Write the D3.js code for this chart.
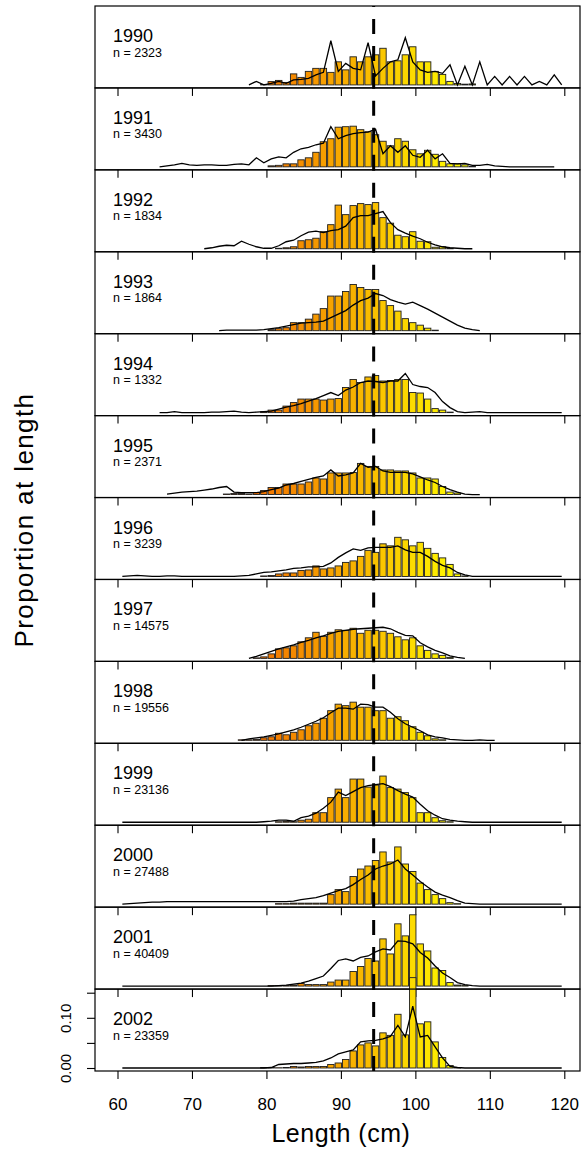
<!DOCTYPE html>
<html>
<head>
<meta charset="utf-8">
<script src="https://cdn.jsdelivr.net/npm/d3@7"></script>
<style>
  body { margin: 0; background: #fff; }
  text { font-family: "Liberation Sans", Arial, Helvetica, sans-serif; fill: #000; }
</style>
</head>
<body>
<svg id="chart" width="582" height="1152"></svg>
<script>
// one panel per year, bins are 1 cm classes indexed by their lower bound
const years = [1990, 1991, 1992, 1993, 1994, 1995, 1996, 1997, 1998, 1999, 2000, 2001, 2002];
const sampleSizes = [2323, 3430, 1834, 1864, 1332, 2371, 3239, 14575, 19556, 23136, 27488, 40409, 23359];

// bar histogram (proportion at length), first bin of each year
const barStart = [79, 80, 81, 80, 79, 74, 79, 78, 76, 81, 81, 80, 79];
const barProps = [
  [.001,.0066,.009,.005,.022,.015,.027,.033,.033,.025,.046,.030,.056,.046,.056,.060,.073,.046,.048,.060,.076,.046,.046,.027,.021,.007,.003,.0015,.002],
  [.002,.003,.006,.006,.014,.018,.029,.050,.056,.079,.080,.081,.074,.070,.064,.051,.042,.056,.051,.034,.026,.033,.025,.011,.006,.006,.004,.001],
  [.001,.002,.004,.016,.018,.021,.034,.048,.087,.068,.086,.090,.088,.092,.062,.051,.027,.024,.034,.015,.014,.003,.004,.001],
  [.002,.004,.006,.016,.016,.023,.033,.044,.069,.069,.078,.092,.086,.082,.082,.060,.050,.039,.024,.016,.011,.005,.001],
  [.002,.005,.005,.013,.020,.027,.027,.027,.025,.027,.028,.050,.066,.060,.071,.074,.063,.064,.066,.066,.040,.039,.027,.008,.005,.001],
  [.001,.002,.002,.001,.004,.008,.014,.014,.021,.021,.021,.025,.033,.031,.043,.043,.043,.044,.062,.056,.056,.049,.049,.047,.047,.043,.033,.033,.031,.016,.005,.003],
  [.001,.002,.005,.007,.007,.012,.013,.021,.015,.017,.021,.028,.031,.040,.052,.048,.065,.061,.078,.073,.061,.068,.056,.046,.037,.024,.005,.001],
  [.001,.003,.009,.019,.021,.025,.033,.041,.052,.044,.052,.057,.056,.060,.050,.056,.056,.054,.050,.043,.037,.041,.025,.016,.009,.006,.002],
  [.001,.001,.002,.005,.007,.014,.011,.016,.021,.029,.034,.044,.059,.072,.069,.076,.066,.066,.059,.059,.044,.047,.039,.027,.016,.009,.003,.001],
  [.001,.002,.001,.004,.006,.019,.019,.049,.066,.049,.086,.086,.070,.074,.092,.069,.066,.059,.049,.019,.019,.009,.003,.001],
  [.001,.001,.002,.002,.002,.002,.002,.019,.029,.025,.055,.070,.076,.087,.104,.084,.114,.080,.065,.042,.029,.019,.011,.003,.001],
  [.001,.001,.001,.002,.005,.003,.003,.003,.008,.012,.012,.029,.039,.055,.050,.094,.064,.124,.100,.142,.084,.070,.036,.031,.007,.002,.001],
  [.001,.001,.0005,.001,.003,.002,.003,.003,.003,.007,.010,.017,.034,.046,.050,.044,.070,.065,.107,.066,.180,.088,.092,.052,.021,.005,.001]
];

// black line (second length composition), first bin of each year
const lineStart = [77, 65, 71, 73, 65, 66, 60, 77, 76, 60, 60, 60, 60];
const lineProps = [
  [0,.007,0,.003,.007,.003,.010,.011,.013,.020,.025,.088,.027,.043,.033,.030,.084,.018,.033,.046,.050,.094,.046,.030,.025,.027,.023,.040,0,.037,0,.046,0,.017,0,.017,0,.017,0,.007,0,.020,0],
  [0,.002,.004,.007,.004,.003,.004,.004,.003,.003,.005,.006,.004,.018,.008,.016,.020,.018,.029,.036,.039,.044,.047,
   .080,.056,.062,.066,.068,.069,.075,.026,.042,.029,.042,.023,.019,.033,.016,.026,.007,.006,.007,.003,.003,.005,.002,.001,0,0,0,0,0,0,0],
  [0,.002,.005,.007,.006,.015,.009,.004,.001,.001,.006,.014,.017,.026,.033,.035,.032,.036,.038,.045,.062,.066,.066,.070,.074,.052,.038,.031,.025,.020,.013,.008,.004,.002,.001,0,0],
  [0,.001,.001,.001,.001,.001,.002,.004,.006,.009,.012,.015,.016,.017,.019,.026,.033,.040,.051,.060,.065,.074,.070,.062,.057,.053,.057,.050,.043,.035,.027,.019,.011,.005,.002,0],
  [0,0,.002,0,0,0,0,.001,.001,.002,.003,.001,0,.001,.002,
   .003,.007,.011,.014,.018,.023,.028,.034,.040,.034,.045,.051,.060,.063,.062,.060,.063,.063,.078,.056,.052,.050,.040,.022,.010,.002,0,.001,.002,
   0,0,0,0,0,0,0,0,0,0,0],
  [.001,.003,.005,.006,.007,.009,.011,.014,.016,.005,.004,.004,.004,.006,
   .010,.013,.019,.022,.026,.030,.034,.037,.049,.037,.039,.043,.062,.054,.056,.047,.044,.044,.044,.041,.035,.029,.024,.016,.010,.005,.001,0,0],
  [0,.001,.002,.001,0,0,.001,.001,0,0,0,0,0,0,0,0,
   .001,.002,.005,.008,.009,.011,.013,.016,.017,.019,.019,.020,.027,.038,.047,.055,.052,.057,.058,.058,.058,.061,.053,.048,.048,.040,.030,.022,.017,.008,.003,0,
   0,0,0,0,0,0,0,0,0,0,0,0],
  [0,.004,.009,.014,.019,.023,.027,.032,.036,.041,.045,.050,.054,.056,.058,.059,.060,.061,.062,.059,.052,.046,.045,.031,.023,.016,.011,.005,.002,0],
  [0,.003,.005,.007,.010,.013,.017,.021,.026,.032,.038,.045,.055,.064,.064,.062,.072,.071,.066,.066,.056,.043,.033,.026,.019,.011,.007,.005,.002,.001,0,0,.001,0,0],
  [0,0,0,0,0,0,0,0,0,0,0,0,0,0,0,0,0,0,0,
   .001,.002,.004,.004,.002,.009,.012,.018,.028,.040,.060,.053,.061,.069,.073,.075,.077,.071,.063,.056,.050,.036,.023,.014,.007,.004,.002,.001,
   0,0,0,0,0,0,0,0,0,0,0,0,0],
  [0,.001,.002,.003,.004,.004,
   .005,.005,.005,.005,.005,.005,.005,.005,.005,.005,.005,.005,.005,.005,.005,.005,.005,
   .006,.009,.011,.013,.017,.022,.027,.031,.039,.049,.058,.070,.076,.080,.088,.070,.058,.045,.034,.024,.018,.013,.007,.002,.001,
   0,0,0,0,0,0,0,0,0,0,0,0],
  [0,0,0,0,0,0,0,0,0,0,0,0,0,0,0,0,0,0,0,0,0,
   .001,.002,.004,.006,.010,.015,.020,.035,.051,.054,.050,.057,.060,.068,.074,.072,.090,.089,.084,.067,.056,.040,.026,.017,.007,.003,.001,
   0,0,0,0,0,0,0,0,0,0,0,0],
  [0,0,0,0,0,0,0,0,0,0,0,0,0,0,0,0,0,0,0,0,.001,
   .007,.008,.009,.009,.010,.011,.014,.020,.028,.032,.036,.052,.054,.055,.058,.063,.085,.062,.123,.062,.065,.042,.020,.003,.001,
   0,0,0,0,0,0,0,0,0,0,0,0,0,0]
];

const xTicks = [60, 70, 80, 90, 100, 110, 120];
const yTicks = [0, 0.05, 0.10, 0.15];
const yTickLabels = ["0.00", "", "0.10", ""];
const refLength = 94.4;   // dashed reference line

const binOffset = 0.65, binWidth = 0.86;

const svg = d3.select("#chart");

const x = d3.scaleLinear().domain([60, 120]).range([117.5, 564.3]);
const panel = d3.scaleBand().domain(years).range([6, 1071]);
const ph = panel.bandwidth();
const left = 95, right = 580;

const fill = d3.scaleLinear().domain([75, 106]).range(["#f06000", "#ffff00"]).clamp(true);

const line = d3.line();

years.forEach((yr, i) => {
  const top = panel(yr);
  const bottom = top + ph;
  const y0 = bottom - 3;
  const y = d3.scaleLinear().domain([0, 0.1]).range([y0, y0 - 50.2]);
  const g = svg.append("g");

  const bars = barProps[i].map((p, k) => ({ len: barStart[i] + k, p }));
  g.selectAll("rect")
    .data(bars)
    .enter()
    .append("rect")
    .attr("x", d => x(d.len + binOffset - binWidth / 2))
    .attr("width", d => x(d.len + binWidth) - x(d.len))
    .attr("y", d => y(d.p))
    .attr("height", d => y(0) - y(d.p))
    .attr("fill", d => fill(d.len))
    .attr("stroke", "#1e1e1e")
    .attr("stroke-width", 0.9);

  const pts = lineProps[i].map((p, k) => [x(lineStart[i] + k + binOffset), y(p)]);
  g.append("path")
    .attr("d", line(pts))
    .attr("fill", "none")
    .attr("stroke", "#000")
    .attr("stroke-width", 1.3)
    .attr("stroke-linejoin", "miter");

  // dashed line drawn from the bottom upwards
  g.append("line")
    .attr("x1", x(refLength)).attr("x2", x(refLength))
    .attr("y1", bottom).attr("y2", top)
    .attr("stroke", "#000")
    .attr("stroke-width", 3)
    .attr("stroke-dasharray", "15,12");

  g.append("rect")
    .attr("x", left).attr("y", top)
    .attr("width", right - left).attr("height", ph)
    .attr("fill", "none")
    .attr("stroke", "#000")
    .attr("stroke-width", 1.2);

  g.append("text")
    .attr("x", 113).attr("y", top + 36)
    .style("font-size", "18px")
    .text(yr);
  g.append("text")
    .attr("x", 113).attr("y", top + 50.5)
    .style("font-size", "12.5px")
    .text("n = " + sampleSizes[i]);

  const last = i === years.length - 1;
  const xAxis = d3.axisBottom(x).tickValues(xTicks).tickSize(8).tickSizeOuter(0)
    .tickFormat(last ? d3.format("d") : "");
  const ax = g.append("g").attr("transform", `translate(0,${bottom})`).call(xAxis);
  ax.select(".domain").remove();
  ax.selectAll("line").attr("stroke", "#000").attr("stroke-width", 1.1);
  ax.selectAll("text")
    .attr("y", 39).attr("dy", 0)
    .style("font-size", "17px")
    .style("font-family", "'Liberation Sans', Arial, sans-serif");

  if (last) {
    const yAxis = d3.axisLeft(y).tickValues(yTicks).tickSize(8).tickSizeOuter(0)
      .tickFormat((d, k) => yTickLabels[k]);
    const ay = g.append("g").attr("transform", `translate(${left},0)`).call(yAxis);
    ay.select(".domain").remove();
    ay.selectAll("line").attr("stroke", "#000").attr("stroke-width", 1.1);
    ay.selectAll("text")
      .attr("x", 0).attr("dy", 0)
      .attr("text-anchor", "middle")
      .attr("transform", "translate(-24,0) rotate(-90)")
      .style("font-size", "15px")
      .style("font-family", "'Liberation Sans', Arial, sans-serif");
  }
});

svg.append("text")
  .attr("x", x(90)).attr("y", 1142)
  .attr("text-anchor", "middle")
  .style("font-size", "25px")
  .style("letter-spacing", "0.5px")
  .text("Length (cm)");

svg.append("text")
  .attr("transform", "translate(33,520) rotate(-90)")
  .attr("text-anchor", "middle")
  .style("font-size", "26px")
  .style("letter-spacing", "1.4px")
  .text("Proportion at length");
</script>
</body>
</html>
